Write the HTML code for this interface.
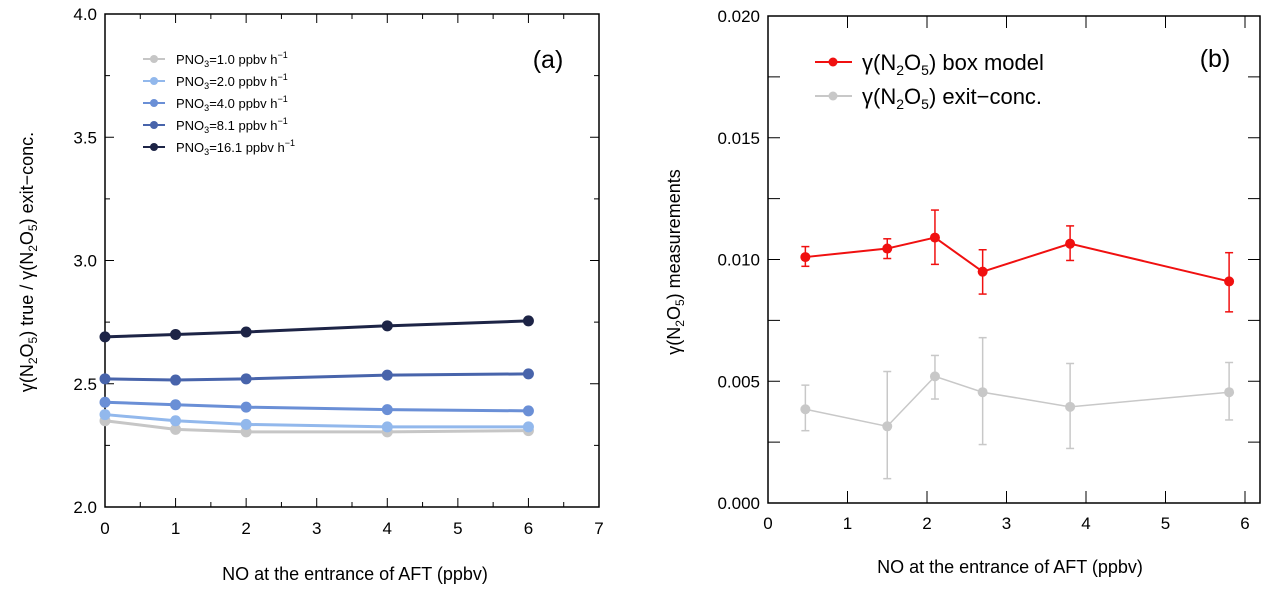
<!DOCTYPE html>
<html><head><meta charset="utf-8"><style>
body{margin:0;background:#fff;}
svg{font-family:"Liberation Sans",sans-serif;}
</style></head><body>
<svg id="s" width="1278" height="591" viewBox="0 0 1278 591"></svg>
<script>
const aX=[0,1,2,4,6];
const aLabels=["1.0","2.0","4.0","8.1","16.1"];
const aS1=[2.35,2.315,2.305,2.305,2.31];
const aS2=[2.375,2.35,2.335,2.325,2.325];
const aS3=[2.425,2.415,2.405,2.395,2.39];
const aS4=[2.52,2.515,2.52,2.535,2.54];
const aS5=[2.69,2.70,2.71,2.735,2.755];
const aXTicks=[0,1,2,3,4,5,6,7];
const aYTicks=[2.0,2.5,3.0,3.5,4.0];
const bX=[0.47,1.5,2.1,2.7,3.8,5.8];
const bRed=[0.0101,0.01045,0.0109,0.0095,0.01065,0.0091];
const bRedHi=[0.01053,0.01085,0.01203,0.0104,0.01138,0.01028];
const bRedLo=[0.00972,0.01004,0.0098,0.00858,0.00996,0.00785];
const bGray=[0.00385,0.00315,0.0052,0.00455,0.00395,0.00455];
const bGrayHi=[0.00484,0.0054,0.00606,0.00679,0.00573,0.00577];
const bGrayLo=[0.00297,0.0010,0.00427,0.0024,0.00224,0.00341];
const bXTicks=[0,1,2,3,4,5,6];
const bYTicks=[0,0.005,0.010,0.015,0.020];
const bYLabels=["0.000","0.005","0.010","0.015","0.020"];

const svg=document.getElementById('s');
const NS='http://www.w3.org/2000/svg';
function mk(t,a,p){const e=document.createElementNS(NS,t);for(const k in a)e.setAttribute(k,a[k]);(p||svg).appendChild(e);return e;}

// panel a
const ax=v=>105+v*(599-105)/7, ay=v=>507-(v-2)*(507-14)/2;
const ga=mk('g',{});


mk('rect',{x:105,y:14,width:494,height:493,fill:'none',stroke:'#000','stroke-width':1.5},ga);
for(let v=0;v<=7.001;v+=0.5){const x=ax(v),L=(Math.abs(v-Math.round(v))<1e-6)?9:5;
 mk('line',{x1:x,y1:507,x2:x,y2:507-L,stroke:'#000'},ga);mk('line',{x1:x,y1:14,x2:x,y2:14+L,stroke:'#000'},ga);}
aXTicks.forEach(v=>{const t=mk('text',{x:ax(v),y:534,'text-anchor':'middle','font-size':17},ga);t.textContent=v;
 });
for(let v=2;v<=4.001;v+=0.25){const y=ay(v),L=(Math.abs(v*2-Math.round(v*2))<1e-6)?9:5;
 mk('line',{x1:105,y1:y,x2:105+L,y2:y,stroke:'#000'},ga);mk('line',{x1:599,y1:y,x2:599-L,y2:y,stroke:'#000'},ga);}
aYTicks.forEach(v=>{const t=mk('text',{x:97,y:ay(v)+6,'text-anchor':'end','font-size':17},ga);t.textContent=v.toFixed(1);
 });
const aSeries=[aS1,aS2,aS3,aS4,aS5];
const aCol=['#c6c6c6','#92b8ec','#6a8fd6','#4864ab','#1d2446'];
aSeries.forEach((s,i)=>{
 const g=mk('g',{},ga);
 
 
 mk('polyline',{points:s.map((v,j)=>ax(aX[j])+','+ay(v)).join(' '),fill:'none',stroke:aCol[i],'stroke-width':3},g);
 s.forEach((v,j)=>mk('circle',{cx:ax(aX[j]),cy:ay(v),r:5.5,fill:aCol[i]},g));
 const ly=59+i*22;
 mk('line',{x1:143,y1:ly,x2:165,y2:ly,stroke:aCol[i],'stroke-width':2},g);
 mk('circle',{cx:154,cy:ly,r:4,fill:aCol[i]},g);
 const t=mk('text',{x:176,y:ly+5,'font-size':13},g);
 
 t.innerHTML='PNO<tspan font-size="9" dy="3">3</tspan><tspan dy="-3">='+aLabels[i]+' ppbv h</tspan><tspan font-size="9" dy="-6">\u22121</tspan>';
});
let t=mk('text',{x:548,y:68,'text-anchor':'middle','font-size':25},ga);t.textContent='(a)';

t=mk('text',{x:355,y:580,'text-anchor':'middle','font-size':18},ga);t.textContent='NO at the entrance of AFT (ppbv)';

t=mk('text',{x:0,y:0,'text-anchor':'middle','font-size':18,transform:'translate(33,262) rotate(-90)'},ga);
t.innerHTML='\u03b3(N<tspan font-size="12" dy="4">2</tspan><tspan dy="-4">O</tspan><tspan font-size="12" dy="4">5</tspan><tspan dy="-4">) true / \u03b3(N</tspan><tspan font-size="12" dy="4">2</tspan><tspan dy="-4">O</tspan><tspan font-size="12" dy="4">5</tspan><tspan dy="-4">) exit\u2212conc.</tspan>';


// panel b
const bx=v=>768+v*(1245-768)/6, by=v=>503-v*(503-16)/0.02;
const gb=mk('g',{});


mk('rect',{x:768,y:16,width:492,height:487,fill:'none',stroke:'#000','stroke-width':1.5},gb);
bXTicks.forEach(v=>{const x=bx(v);mk('line',{x1:x,y1:503,x2:x,y2:491,stroke:'#000'},gb);mk('line',{x1:x,y1:16,x2:x,y2:28,stroke:'#000'},gb);
 const t=mk('text',{x:x,y:529,'text-anchor':'middle','font-size':17},gb);t.textContent=v;
 });
for(let v=0;v<=0.02001;v+=0.0025){const y=by(v);mk('line',{x1:768,y1:y,x2:780,y2:y,stroke:'#000'},gb);mk('line',{x1:1260,y1:y,x2:1248,y2:y,stroke:'#000'},gb);}
bYTicks.forEach((v,i)=>{const t=mk('text',{x:760,y:by(v)+6,'text-anchor':'end','font-size':17},gb);t.textContent=bYLabels[i];
 });
function bSeries(vals,hi,lo,col,w,name){
 const g=mk('g',{},gb);
 
 
 vals.forEach((v,j)=>{const x=bx(bX[j]);
  mk('line',{x1:x,y1:by(hi[j]),x2:x,y2:by(lo[j]),stroke:col,'stroke-width':1.5},g);
  mk('line',{x1:x-4,y1:by(hi[j]),x2:x+4,y2:by(hi[j]),stroke:col,'stroke-width':1.5},g);
  mk('line',{x1:x-4,y1:by(lo[j]),x2:x+4,y2:by(lo[j]),stroke:col,'stroke-width':1.5},g);});
 mk('polyline',{points:vals.map((v,j)=>bx(bX[j])+','+by(v)).join(' '),fill:'none',stroke:col,'stroke-width':w},g);
 vals.forEach((v,j)=>mk('circle',{cx:bx(bX[j]),cy:by(v),r:5,fill:col},g));
}
bSeries(bGray,bGrayHi,bGrayLo,'#c8c8c8',1.5,'series-exit-conc');
bSeries(bRed,bRedHi,bRedLo,'#f01010',2,'series-box-model');
[['#f01010','box model',62,'legend-box-model'],['#c8c8c8','exit\u2212conc.',96,'legend-exit-conc']].forEach(a=>{
 const g=mk('g',{},gb);
 
 
 mk('line',{x1:815,y1:a[2],x2:852,y2:a[2],stroke:a[0],'stroke-width':2},g);
 mk('circle',{cx:833,cy:a[2],r:4.5,fill:a[0]},g);
 const t=mk('text',{x:862,y:a[2]+8,'font-size':22},g);
 t.innerHTML='\u03b3(N<tspan font-size="14" dy="5">2</tspan><tspan dy="-5">O</tspan><tspan font-size="14" dy="5">5</tspan><tspan dy="-5">) '+a[1]+'</tspan>';
});
t=mk('text',{x:1215,y:67,'text-anchor':'middle','font-size':25},gb);t.textContent='(b)';

t=mk('text',{x:1010,y:573,'text-anchor':'middle','font-size':18},gb);t.textContent='NO at the entrance of AFT (ppbv)';

t=mk('text',{x:0,y:0,'text-anchor':'middle','font-size':18,transform:'translate(680,262) rotate(-90)'},gb);
t.innerHTML='\u03b3(N<tspan font-size="12" dy="4">2</tspan><tspan dy="-4">O</tspan><tspan font-size="12" dy="4">5</tspan><tspan dy="-4">) measurements</tspan>';

</script>
</body></html>
